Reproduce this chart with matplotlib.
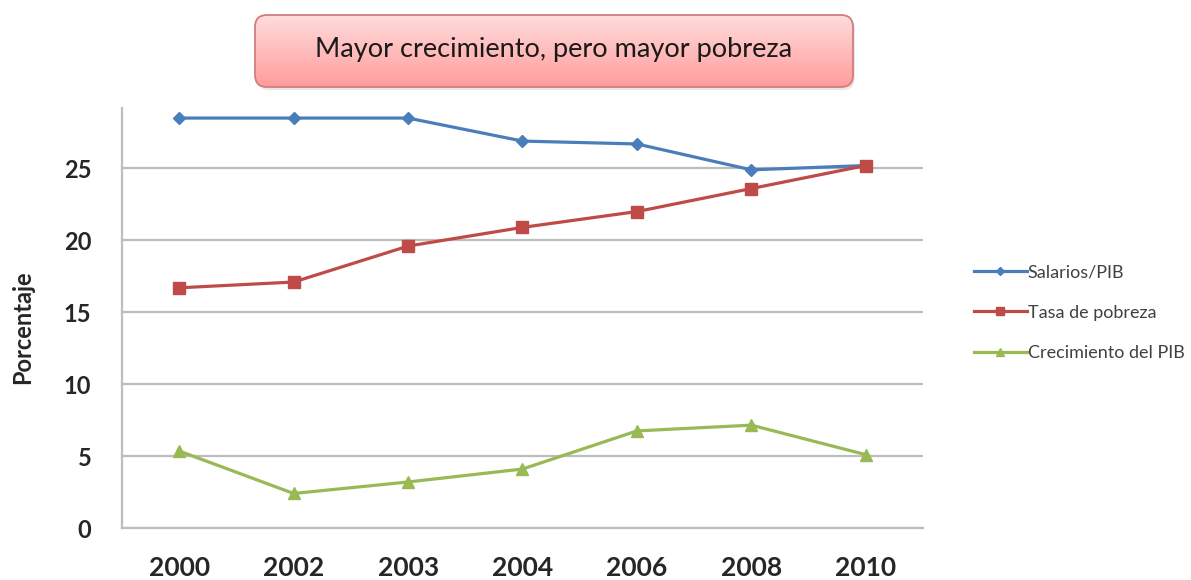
import numpy as np
import matplotlib.pyplot as plt
from matplotlib.patches import FancyBboxPatch
from matplotlib.colors import LinearSegmentedColormap

years = ["2000", "2002", "2003", "2004", "2006", "2008", "2010"]
salarios_pib = [28.5, 28.5, 28.5, 26.9, 26.7, 24.9, 25.2]
tasa_pobreza = [16.7, 17.1, 19.6, 20.9, 22.0, 23.6, 25.2]
crec_pib = [5.35, 2.4, 3.2, 4.1, 6.75, 7.15, 5.1]
y_ticks = [0, 5, 10, 15, 20, 25]

plt.rcParams['font.family'] = ['Lato', 'DejaVu Sans']

W, H = 1191, 580
fig = plt.figure(figsize=(W / 100, H / 100), dpi=100)
ax = fig.add_axes([122 / W, 1 - 528 / H, (923 - 122) / W, (528 - 108) / H])

x = np.arange(len(years))
ax.plot(x, salarios_pib, color="#4a7ebb", lw=2.3, marker="D", ms=6.5, label="Salarios/PIB")
ax.plot(x, tasa_pobreza, color="#be4b48", lw=2.3, marker="s", ms=8, label="Tasa de pobreza")
ax.plot(x, crec_pib, color="#98b954", lw=2.3, marker="^", ms=8, label="Crecimiento del PIB")

ax.set_xlim(-0.5, len(years) - 0.5)
ax.set_ylim(0, 29.2)
ax.set_xticks(x)
ax.set_xticklabels(years, fontsize=19, fontweight="bold", color="#262626")
ax.set_yticks(y_ticks)
ax.set_yticklabels([str(v) for v in y_ticks], fontsize=17, fontweight="bold", color="#262626")
ax.tick_params(length=0)
ax.tick_params(axis="x", pad=20)
ax.tick_params(axis="y", pad=22)
ax.grid(axis="y", color="#bdbdbd", lw=1.6)
ax.set_axisbelow(True)
for s in ["top", "right"]:
    ax.spines[s].set_visible(False)
ax.spines["left"].set_color("#bdbdbd")
ax.spines["bottom"].set_color("#bdbdbd")
ax.spines["left"].set_linewidth(1.6)
ax.spines["bottom"].set_linewidth(1.6)

fig.text(23 / W, 1 - 327 / H, "Porcentaje", rotation=90, fontsize=17, fontweight="bold",
         color="#262626", ha="center", va="center")

ax.legend(loc="upper left", bbox_to_anchor=(958 / W, 1 - 248 / H), bbox_transform=fig.transFigure,
          frameon=False, fontsize=13, handlelength=2.9, handletextpad=0.05,
          labelspacing=1.35, labelcolor="#404040", markerscale=0.7)

# title box with gradient
tax = fig.add_axes([250 / W, 1 - 92 / H, 610 / W, 82 / H])
tax.set_xlim(0, 610)
tax.set_ylim(0, 82)
tax.axis("off")
shadow = FancyBboxPatch((7, 2), 598, 72, boxstyle="round,pad=0,rounding_size=12",
                        fc="#d8d8d8", ec="none", alpha=0.6)
tax.add_patch(shadow)
box = FancyBboxPatch((5, 5), 598, 72, boxstyle="round,pad=0,rounding_size=12",
                     fc="none", ec="#d47c7c", lw=1.3, zorder=3)
tax.add_patch(box)
grad = np.linspace(0, 1, 100).reshape(-1, 1)
cmap = LinearSegmentedColormap.from_list("pink", ["#ffdcdc", "#ff9c9c"])
im = tax.imshow(grad, cmap=cmap, extent=(5, 603, 5, 77), aspect="auto", zorder=2)
im.set_clip_path(box)
tax.text(304, 43, "Mayor crecimiento, pero mayor pobreza", fontsize=19.5,
         color="#1a1a1a", ha="center", va="center", zorder=4)

fig.savefig("out.png", dpi=100)
